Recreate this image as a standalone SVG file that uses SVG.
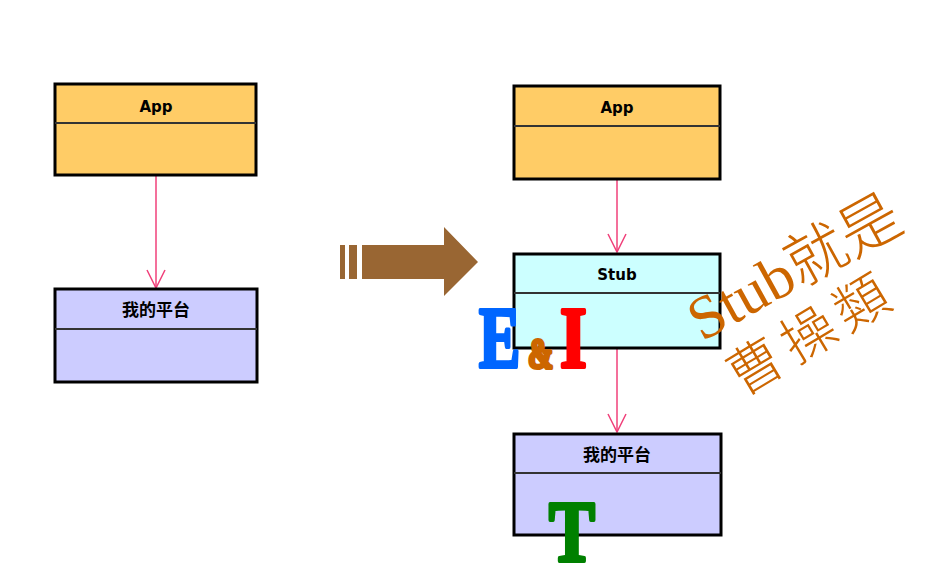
<svg xmlns="http://www.w3.org/2000/svg" width="946" height="576" viewBox="0 0 946 576">
<defs>
<style>
.box{stroke:#000;stroke-width:3}
.app{fill:#FFCC66}
.plat{fill:#CCCCFF}
.stub{fill:#CCFFFF}
.div{stroke:#333;stroke-width:2}
.lbl{font-family:"DejaVu Sans","Noto Sans CJK TC",sans-serif;font-weight:bold;font-size:15px;fill:#000;text-anchor:middle}
.cjk{font-family:"Noto Sans CJK TC",sans-serif;font-weight:bold;font-size:17px;fill:#000;text-anchor:middle}
.conn{stroke:#F0407A;stroke-width:1.5;fill:none}
.big{font-family:"Liberation Serif",serif;font-weight:bold;stroke-width:4;stroke-linejoin:round}
.note{font-family:"Liberation Serif","Noto Sans CJK TC",serif;font-weight:300;fill:#CC6600}
</style>
<marker id="ah" viewBox="-20 -10 22 20" refX="0" refY="0" markerWidth="22" markerHeight="20" markerUnits="userSpaceOnUse" orient="auto">
<path d="M-18,-9 L0,0 L-18,9" fill="none" stroke="#F0407A" stroke-width="1.5"/>
</marker>
</defs>
<rect width="946" height="576" fill="#fff"/>

<g id="connectors">
<path class="conn" d="M156,176 L156,288" marker-end="url(#ah)"/>
<path class="conn" d="M617,180 L617,252" marker-end="url(#ah)"/>
<path class="conn" d="M617,349 L617,432" marker-end="url(#ah)"/>
</g>

<g id="app-left">
<rect class="box app" x="55" y="84" width="201" height="91"/>
<line class="div" x1="55" y1="123" x2="256" y2="123"/>
<text class="lbl" x="156" y="112">App</text>
</g>
<g id="platform-left">
<rect class="box plat" x="55" y="289" width="202" height="93"/>
<line class="div" x1="55" y1="329" x2="257" y2="329"/>
<text class="cjk" x="156" y="316">我的平台</text>
</g>

<g id="big-arrow" fill="#996633">
<rect x="340" y="245" width="5" height="34"/>
<rect x="349" y="245" width="8" height="34"/>
<polygon points="362,245 444,245 444,227 478,262 444,296 444,279 362,279"/>
</g>

<g id="app-right">
<rect class="box app" x="514" y="86" width="206" height="93"/>
<line class="div" x1="514" y1="126" x2="720" y2="126"/>
<text class="lbl" x="617" y="113">App</text>
</g>
<g id="stub">
<rect class="box stub" x="514" y="254" width="206" height="94"/>
<line class="div" x1="514" y1="293" x2="720" y2="293"/>
<text class="lbl" x="617" y="280">Stub</text>
</g>
<g id="platform-right">
<rect class="box plat" x="514" y="434" width="207" height="101"/>
<line class="div" x1="514" y1="473" x2="721" y2="473"/>
<text class="cjk" x="617" y="461">我的平台</text>
</g>

<g id="ei">
<text class="big" font-size="86" fill="#0066FF" stroke="#0066FF" transform="translate(479,367) scale(0.72,1)">E</text>
<text class="big" font-size="42" fill="#CC6600" stroke="#CC6600" stroke-width="2" transform="translate(528,368) scale(0.72,1)">&amp;</text>
<text class="big" font-size="86" fill="#FF0000" stroke="#FF0000" transform="translate(560,367) scale(0.8,1)">I</text>
</g>
<g id="t">
<text class="big" font-size="86" fill="#008000" stroke="#008000" transform="translate(549,561) scale(0.8,1)">T</text>
</g>

<g id="note">
<text class="note" font-size="61" transform="translate(702,342) rotate(-29)">Stub就是</text>
<text class="note" font-size="54" letter-spacing="8" transform="translate(742,397) rotate(-31)">曹操類</text>
</g>
</svg>
